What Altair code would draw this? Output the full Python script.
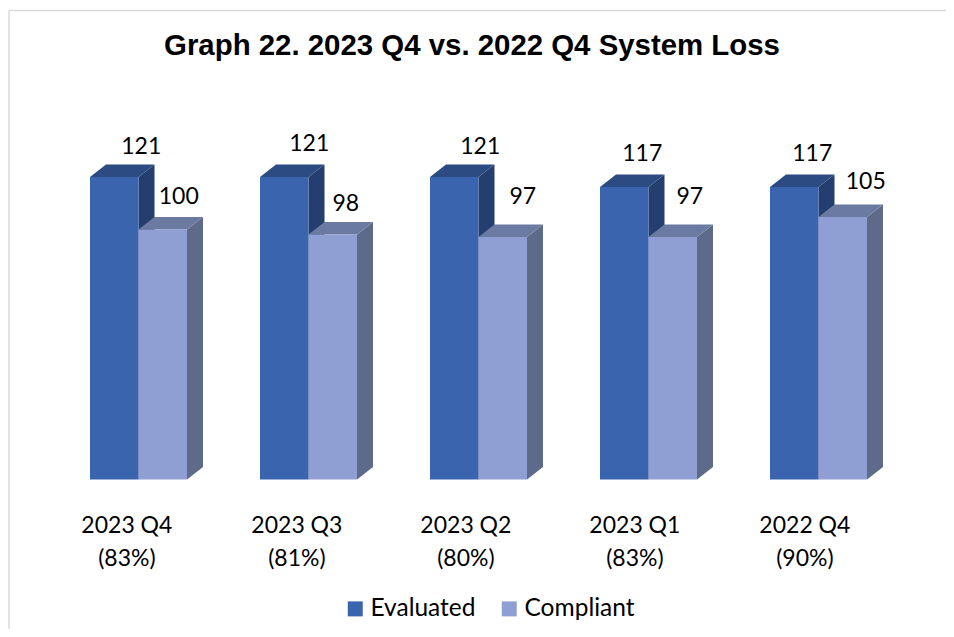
import altair as alt
import pandas as pd

# --- data ---
CATEGORIES = ["2023 Q4", "2023 Q3", "2023 Q2", "2023 Q1", "2022 Q4"]
RATES = ["(83%)", "(81%)", "(80%)", "(83%)", "(90%)"]
EVALUATED = [121, 121, 121, 117, 117]
COMPLIANT = [100, 98, 97, 97, 105]

TITLE = "Graph 22. 2023 Q4 vs. 2022 Q4 System Loss"
SERIES = ["Evaluated", "Compliant"]

# --- geometry, in scale units ---
PX_X = 170.0          # px per group
PX_Y = 2.5            # px per value unit
BAR_W = 48.5 / PX_X
DEPTH_X = 16 / PX_X
DEPTH_Y = 12.5 / PX_Y
PLOT_W = 938
PLOT_H = 621
X_DOMAIN = [(8 - 90) / PX_X, (8 + PLOT_W - 90) / PX_X]
Y_DOMAIN = [(479.5 - 8 - PLOT_H) / PX_Y, (479.5 - 8) / PX_Y]

# hand-placed data label nudges of the original (in px from the bar's top centre)
EV_NUDGE_X = [27, 25, 26, 18, 18]
EV_NUDGE_Y = [30, 33, 30, 33, 33]
CO_NUDGE_X = [16, 13, 20, 17, 23]
CO_NUDGE_Y = [33, 31, 40, 40, 35]
CAT_NUDGE_X = [0, 0, -1, -2, -2]

front, side, top, labels = [], [], [], []
for i, cat in enumerate(CATEGORIES):
    for s, (name, vals) in enumerate(zip(SERIES, (EVALUATED, COMPLIANT))):
        v = vals[i]
        x0 = i + s * BAR_W
        x1 = x0 + BAR_W
        key = f"{cat}-{name}"
        front.append(dict(series=name, x0=x0, x1=x1, v=v, base=0))
        side.append(dict(key=key, series=name, x=x1, y=v, y2=0))
        side.append(dict(key=key, series=name, x=x1 + DEPTH_X, y=v + DEPTH_Y, y2=DEPTH_Y))
        top.append(dict(key=key, series=name, y=v, x=x0, x2=x1))
        top.append(dict(key=key, series=name, y=v + DEPTH_Y, x=x0 + DEPTH_X, x2=x1 + DEPTH_X))
        nx = (EV_NUDGE_X if s == 0 else CO_NUDGE_X)[i] / PX_X
        ny = (EV_NUDGE_Y if s == 0 else CO_NUDGE_Y)[i] / PX_Y
        labels.append(dict(x=(x0 + x1) / 2 + nx, y=v + ny, t=str(v)))

cats = pd.DataFrame(
    dict(x=[i + BAR_W * 0.76 + CAT_NUDGE_X[i] / PX_X for i in range(5)],
         t=[f"{c}\n{r}" for c, r in zip(CATEGORIES, RATES)])
)

xs = alt.Scale(domain=X_DOMAIN, nice=False, zero=False)
ys = alt.Scale(domain=Y_DOMAIN, nice=False, zero=False)
X = lambda f: alt.X(f, type="quantitative", scale=xs, axis=None)
Y = lambda f: alt.Y(f, type="quantitative", scale=ys, axis=None)

FRONT = alt.Scale(domain=SERIES, range=["#3A64AD", "#8F9FD4"])
SIDE = alt.Scale(domain=SERIES, range=["#243F6F", "#5D6A8A"])
TOP = alt.Scale(domain=SERIES, range=["#2C4B83", "#6B7AA0"])

side_df = pd.DataFrame(side)
top_df = pd.DataFrame(top)

layers = []
for name in SERIES:
    layers.append(
        alt.Chart(side_df[side_df.series == name]).mark_area(orient="vertical").encode(
            x=X("x"), y=Y("y"), y2="y2", detail="key:N",
            fill=alt.Fill("series:N", scale=SIDE, legend=None),
        )
    )
    layers.append(
        alt.Chart(top_df[top_df.series == name]).mark_area(orient="horizontal").encode(
            y=Y("y"), x=X("x"), x2="x2", detail="key:N",
            fill=alt.Fill("series:N", scale=TOP, legend=None),
        )
    )

fronts = alt.Chart(pd.DataFrame(front)).mark_rect().encode(
    x=X("x0"), x2="x1", y=Y("v"), y2="base",
    color=alt.Color(
        "series:N", scale=FRONT, title=None,
        legend=alt.Legend(
            orient="none", legendX=335, legendY=588.5, direction="horizontal",
            columns=2, symbolType="square", symbolSize=225, symbolStrokeWidth=0,
            labelFont="Lato", labelFontSize=24.5, labelColor="#000000",
            columnPadding=21, labelOffset=3, symbolOpacity=1,
        ),
    ),
)

values = alt.Chart(pd.DataFrame(labels)).mark_text(
    font="Lato", fontSize=23, color="#000000", baseline="middle", align="center"
).encode(x=X("x"), y=Y("y"), text="t:N")

cat_text = alt.Chart(cats).mark_text(
    font="Lato", fontSize=23, color="#000000", baseline="top", align="center",
    lineBreak="\n", lineHeight=33,
).encode(x=X("x"), y=alt.value(507), text="t:N")

frame = pd.DataFrame(dict(a=[0]))
left_line = alt.Chart(frame).mark_rule(color="#DADADA", strokeWidth=1.5).encode(
    x=alt.value(1), y=alt.value(2.5), y2=alt.value(PLOT_H))
top_line = alt.Chart(frame).mark_rule(color="#DADADA", strokeWidth=1.5).encode(
    y=alt.value(2.5), x=alt.value(1), x2=alt.value(PLOT_W))

chart = alt.layer(left_line, top_line, *layers, fronts, values, cat_text).resolve_scale(
    fill="independent", color="independent"
).properties(
    width=PLOT_W, height=PLOT_H, padding=0,
    autosize=alt.AutoSizeParams(type="none"),
    title=alt.TitleParams(TITLE, font="Liberation Sans", fontSize=29.4, fontWeight="bold",
                          color="#000000", anchor="middle", dy=57, dx=-5),
).configure_view(stroke=None)

chart.save("out.html", embed_options={"renderer": "svg", "actions": False})
